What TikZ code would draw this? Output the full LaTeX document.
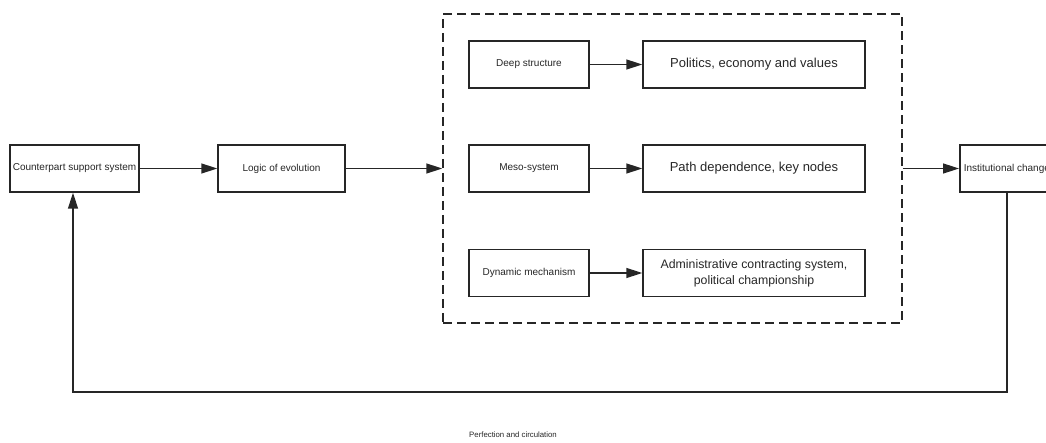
\documentclass[tikz,border=0pt]{standalone}
\usepackage{fontspec}
\setmainfont{Liberation Sans}
\usetikzlibrary{arrows.meta}
\tikzset{>={Triangle[width=10pt,length=16pt]}}
\tikzset{
  smallbox/.style={draw, line width=1.5pt, minimum height=47pt, inner xsep=2pt, font=\fontsize{10}{12}\selectfont},
  bigbox/.style={draw, line width=1.5pt, minimum height=47pt, minimum width=222pt, align=center, font=\fontsize{13}{16}\selectfont},
  framebox/.style={draw, line width=1.5pt, dash pattern=on 9pt off 5pt, minimum width=459pt, minimum height=309pt},
  link/.style={->, line width=1.5pt}
}

\begin{document}
\begin{tikzpicture}[x=1pt,y=-1pt,color=black!85]
\useasboundingbox (0,0) rectangle (1046,443);

\node[smallbox, minimum width=129pt] (cps) at (74.5,168.5) {Counterpart support system};
\node[smallbox, minimum width=127pt] (logic) at (281.5,168.5) {Logic of evolution};
\node[framebox] (frame) at (672.5,168.5) {};
\node[smallbox, anchor=west, inner xsep=4pt] (inst) at (959,168.5) {Institutional change};

\node[smallbox, minimum width=120pt] (deep) at (529,64.5) {Deep structure};
\node[bigbox] (pol) at (754,64.5) {Politics, economy and values};
\node[smallbox, minimum width=120pt] (meso) at (529,168.5) {Meso-system};
\node[bigbox] (path) at (754,168.5) {Path dependence, key nodes};
\node[smallbox, minimum width=120pt] (dyn) at (529,273) {Dynamic mechanism};
\node[bigbox, font=\fontsize{12.3}{16}\selectfont] (adm) at (754,273) {Administrative contracting system,\\political championship};

\draw[link] (cps) -- (logic);
\draw[link] (logic) -- (frame);
\draw[link] (frame) -- (inst);
\draw[link] (deep) -- (pol);
\draw[link] (meso) -- (path);
\draw[link] (dyn) -- (adm);

\coordinate (bend) at (73,392);
\draw[link] (inst.south) |- (bend) -- (bend |- cps.south);
\node[font=\fontsize{7.8}{9}\selectfont] (loop) at (513,435) {Perfection and circulation};

\end{tikzpicture}
\end{document}
